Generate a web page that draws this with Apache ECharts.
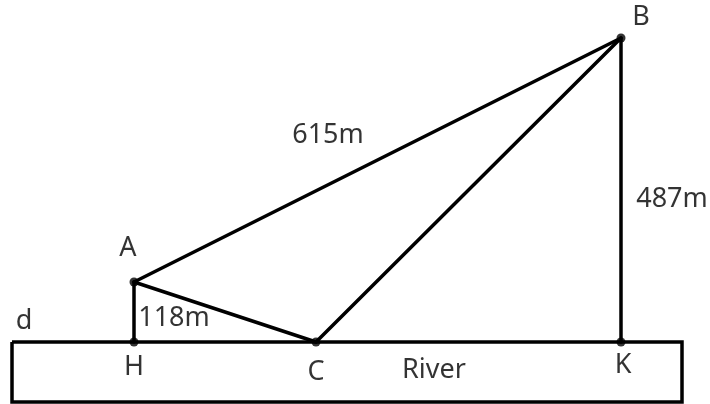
<!DOCTYPE html>
<html>
<head>
<meta charset="utf-8">
<script src="https://cdn.jsdelivr.net/npm/echarts@6/dist/echarts.min.js"></script>
<style>
html,body{margin:0;padding:0;background:#fff;}
#main{width:710px;height:404px;}
</style>
</head>
<body>
<div id="main"></div>
<script>
/* diagram points (drawing units) */
var pointNames = ['A', 'B', 'C', 'H', 'K'];
var pointX = [134, 621, 316, 134, 621];
var pointY = [282, 38, 342, 342, 342];

/* segments between named points */
var segments = [['A', 'B'], ['A', 'C'], ['B', 'C'], ['A', 'H'], ['B', 'K']];

/* river outline */
var riverX = [12, 682, 682, 12, 12];
var riverY = [342, 342, 402, 402, 342];

/* text labels */
var labelTexts = ['A', 'B', 'C', 'H', 'K', 'd', 'River', '615m', '487m', '118m'];
var labelX = [128, 641, 316, 134, 623, 24, 434, 328, 672, 174];
var labelY = [248, 17, 372, 367, 365, 321, 370, 135, 199, 318];

function pt(name){
	var i = pointNames.indexOf(name);
	return [pointX[i], pointY[i]];
}

var chart = echarts.init(document.getElementById('main'));
var series = [];

/*河流矩形*/
series.push({
	type: 'line',
	data: riverX.map(function(x, i){ return [x, riverY[i]]; }),
	symbol: 'none',
	lineStyle: { color: '#000', width: 3.5, join: 'miter' },
	silent: true
});

/*线段*/
segments.forEach(function(s){
	series.push({
		type: 'line',
		data: [pt(s[0]), pt(s[1])],
		symbol: 'none',
		lineStyle: { color: '#000', width: 3.5, cap: 'round' },
		silent: true
	});
});

/*端点*/
series.push({
	type: 'scatter',
	data: pointNames.map(function(n){ return pt(n); }),
	symbolSize: 9,
	itemStyle: { color: '#000' },
	silent: true
});

/*文字*/
series.push({
	type: 'scatter',
	data: labelTexts.map(function(t, i){ return { value: [labelX[i], labelY[i]], name: t }; }),
	symbolSize: 0,
	label: {
		show: true,
		position: 'inside',
		formatter: '{b}',
		color: '#000',
		fontSize: 27,
		fontFamily: 'Noto Sans'
	},
	silent: true
});

chart.setOption({
	animation: false,
	grid: { left: 0, right: 0, top: 0, bottom: 0 },
	xAxis: { type: 'value', min: 0, max: 710, show: false },
	yAxis: { type: 'value', min: 0, max: 404, inverse: true, show: false },
	series: series
});
</script>
</body>
</html>
